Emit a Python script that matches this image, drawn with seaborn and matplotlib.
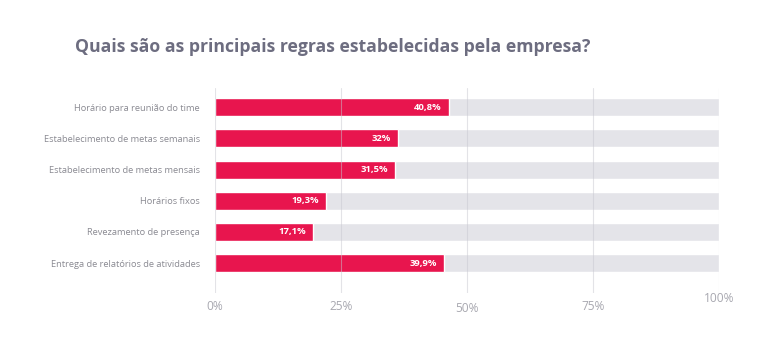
import numpy as np
import pandas as pd
import seaborn as sns
import matplotlib.pyplot as plt
from matplotlib.transforms import ScaledTranslation

# data
categories = ["Horário para reunião do time", "Estabelecimento de metas semanais",
              "Estabelecimento de metas mensais", "Horários fixos",
              "Revezamento de presença", "Entrega de relatórios de atividades"]
values = [40.8, 32.0, 31.5, 19.3, 17.1, 39.9]
value_labels = ["40,8%", "32%", "31,5%", "19,3%", "17,1%", "39,9%"]
tick_labels = ["0%", "25%", "50%", "75%", "100%"]

# the original chart stretches its bars: the full track corresponds to ~88
track_max = 88.0

df = pd.DataFrame({"categoria": categories, "valor": values,
                   "trilha": [track_max] * len(values)})

sns.set_theme(style="white")
plt.rcParams["font.family"] = ["Open Sans", "DejaVu Sans"]

red = "#e8154e"
track = "#e4e4e9"

fig = plt.figure(figsize=(7.74, 3.56), dpi=100)
ax = fig.add_axes([0.2778, 0.177, 0.6512, 0.576])

sns.barplot(data=df, y="categoria", x="trilha", color=track, width=0.58,
            saturation=1, ax=ax, zorder=1)
sns.barplot(data=df, y="categoria", x="valor", color=red, width=0.58,
            saturation=1, ax=ax, zorder=2)

for i, (v, lab) in enumerate(zip(values, value_labels)):
    ax.annotate(lab, xy=(v, i), xytext=(-5, 0), textcoords="offset points",
                ha="right", va="center", color="white", fontsize=6.8,
                fontweight="bold", zorder=4)

ticks = np.linspace(0, track_max, len(tick_labels))
for t in ticks:
    ax.axvline(t, color="#c8c8d0", lw=0.8, alpha=0.5, zorder=3)

ax.set_xlim(0, track_max)
ax.set_ylim(5.96, -0.62)
ax.set_xticks(ticks)
ax.set_xticklabels(tick_labels, fontsize=8.6, color="#a8a8b0")
ax.tick_params(axis="x", length=0, pad=5)
ax.tick_params(axis="y", length=0, pad=11)
for lab in ax.get_yticklabels():
    lab.set_fontsize(6.7)
    lab.set_color("#8a8a92")

# the original tick labels sit at slightly uneven heights
shifts = [0, 0, -1.5, 0, 6]
for lab, dy in zip(ax.get_xticklabels(), shifts):
    lab.set_transform(lab.get_transform() + ScaledTranslation(0, dy / 72, fig.dpi_scale_trans))

ax.set_xlabel("")
ax.set_ylabel("")
for s in ax.spines.values():
    s.set_visible(False)

fig.text(0.097, 0.868, "Quais são as principais regras estabelecidas pela empresa?",
         fontsize=12.7, fontweight="bold", color="#6d6d80", va="center")

fig.savefig("out.png", dpi=100, facecolor="white")
